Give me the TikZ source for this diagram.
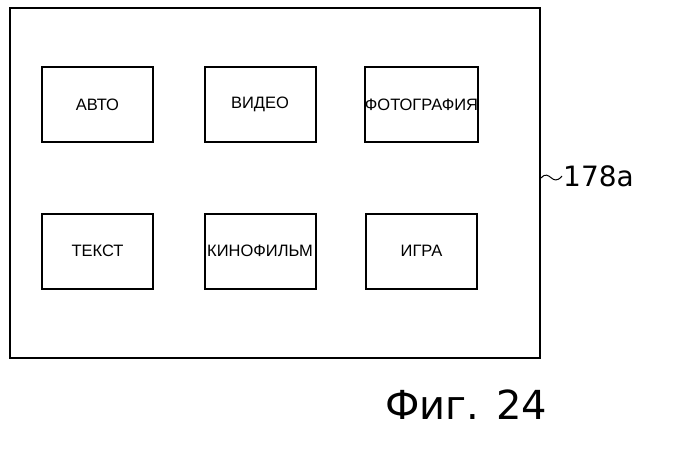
\documentclass[tikz,border=0pt]{standalone}
\usepackage{fontspec}
\setmainfont{Liberation Sans}
\newfontfamily\dejavu{DejaVu Sans}
\begin{document}
\begin{tikzpicture}[x=1pt,y=-1pt,
  btn/.style={draw,line width=2pt,minimum width=111pt,minimum height=75pt,inner sep=0pt,font=\fontsize{16.5}{18}\selectfont}]
\useasboundingbox (0,0) rectangle (698,451);
\node[draw,line width=2pt,minimum width=530pt,minimum height=350pt] (frame) at (275,183) {};
\node[btn] (a) at (97.5,104.5) {АВТО};
\node[btn] (b) at (260,104.5) {ВИДЕО};
\node[btn] (c) at (421.5,104.5) {ФОТОГРАФИЯ};
\node[btn] (d) at (97.5,251) {ТЕКСТ};
\node[btn] (e) at (260,251) {КИНОФИЛЬМ};
\node[btn] (f) at (421.5,251) {ИГРА};
\node[anchor=west,inner sep=1pt,font=\dejavu\fontsize{28}{30}\selectfont] (lab) at (562,176) {178a};
\draw[line width=1pt] (frame.east |- 0,178) .. controls (550,168) and (552,188) .. (lab.west);
\node[font=\dejavu\fontsize{40}{46}\selectfont] (fig) at (466,405) {Фиг. 24};
\end{tikzpicture}
\end{document}
